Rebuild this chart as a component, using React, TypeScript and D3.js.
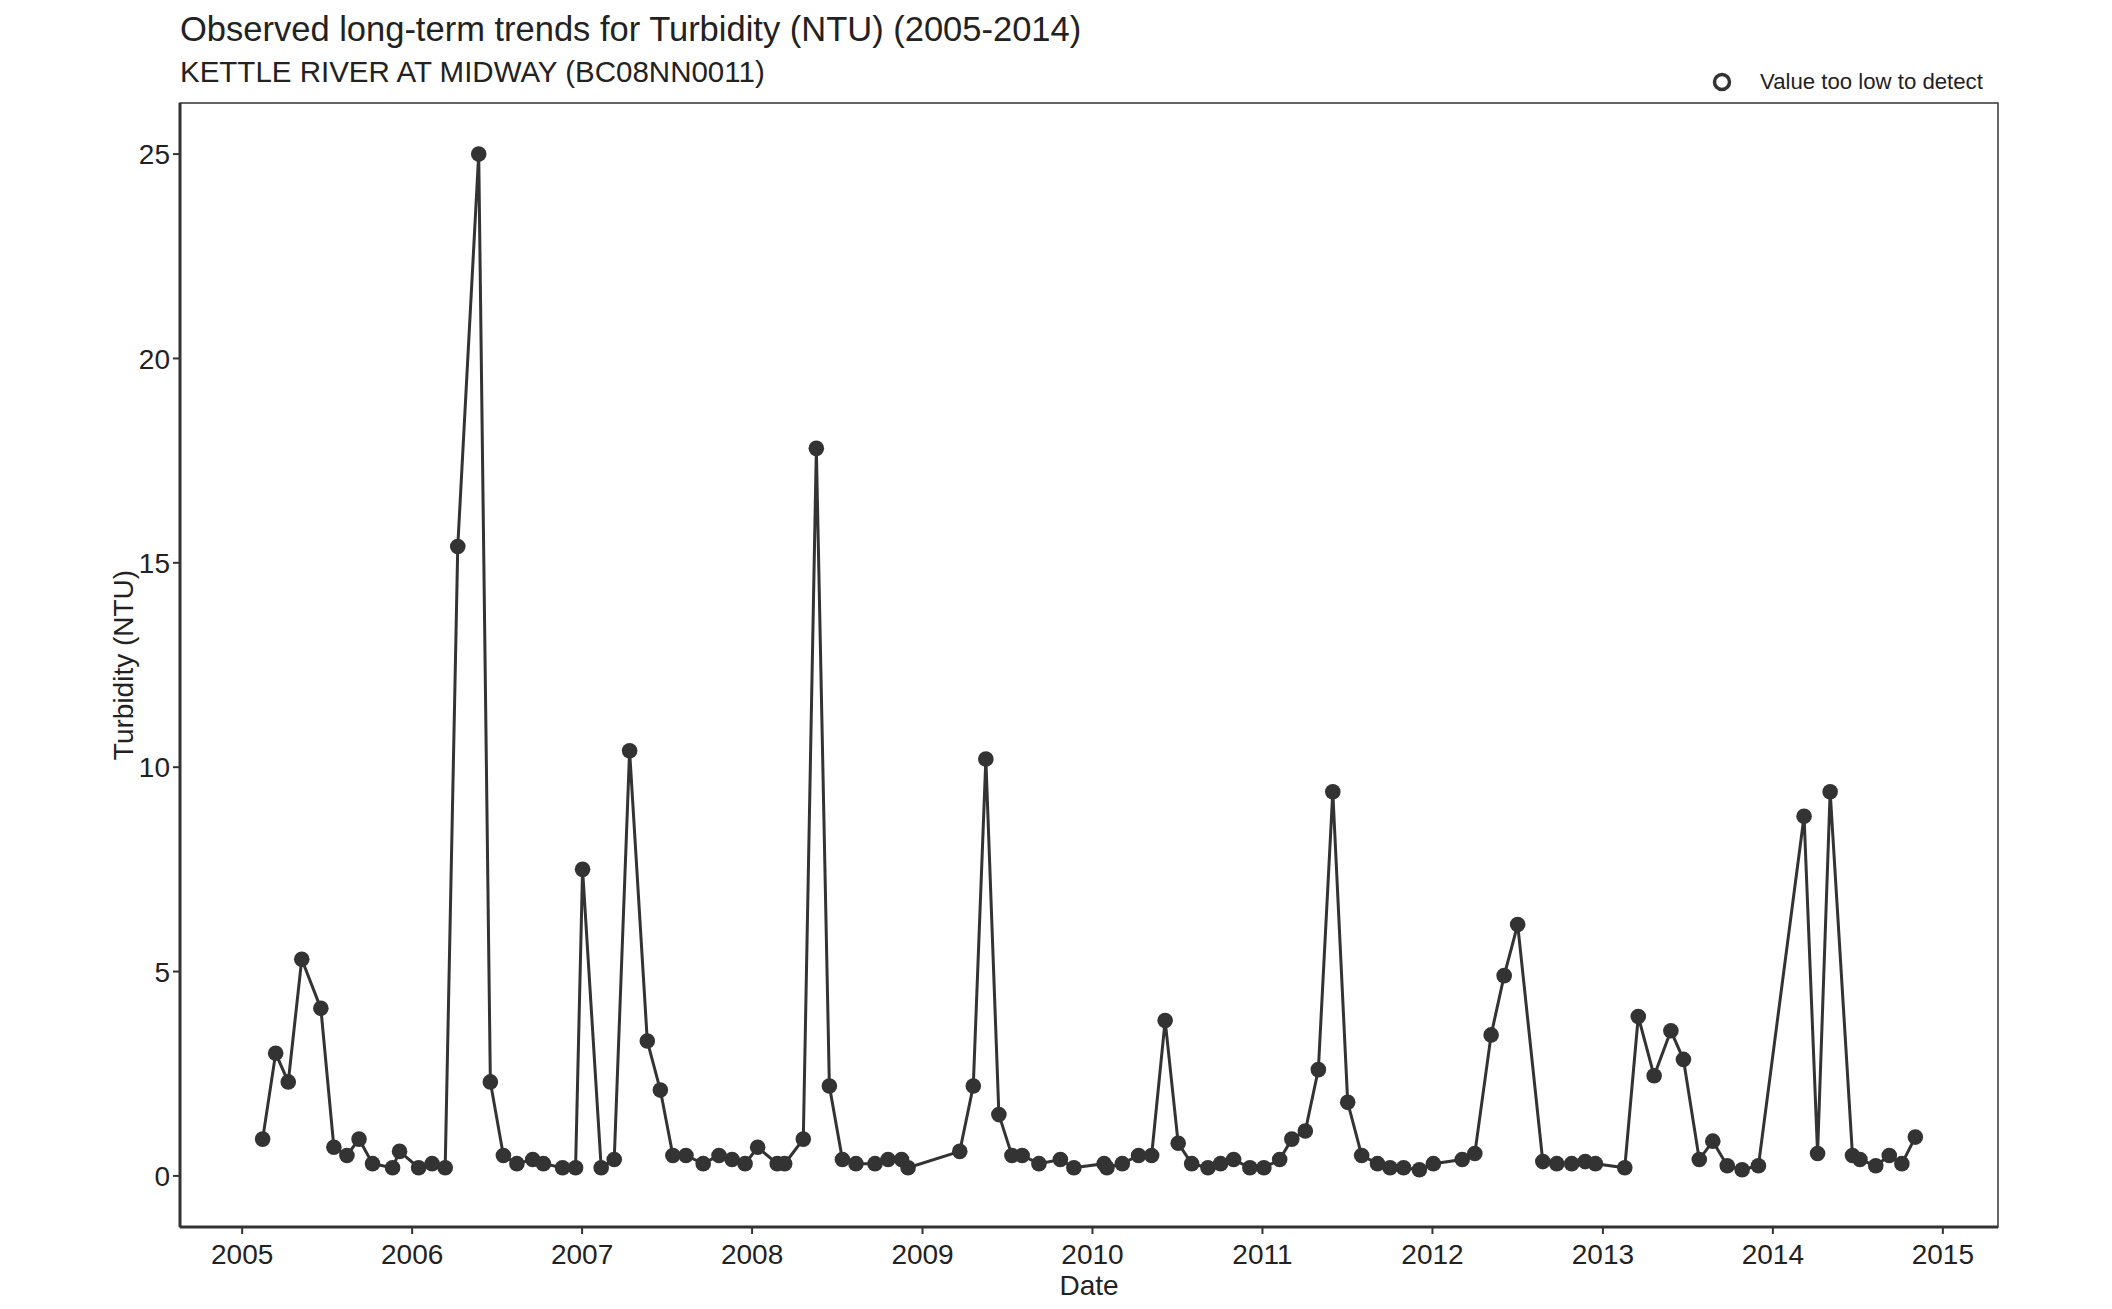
import * as d3 from "d3";

const sampleDates = [
  "2005-02-14", "2005-03-14", "2005-04-10", "2005-05-09", "2005-06-19",
  "2005-07-17", "2005-08-14", "2005-09-09", "2005-10-08", "2005-11-20",
  "2005-12-05", "2006-01-15", "2006-02-13", "2006-03-13", "2006-04-09",
  "2006-05-24", "2006-06-18", "2006-07-16", "2006-08-14", "2006-09-17",
  "2006-10-10", "2006-11-20", "2006-12-18", "2007-01-02", "2007-02-11",
  "2007-03-11", "2007-04-13", "2007-05-21", "2007-06-18", "2007-07-15",
  "2007-08-12", "2007-09-18", "2007-10-22", "2007-11-19", "2007-12-17",
  "2008-01-13", "2008-02-24", "2008-03-11", "2008-04-20", "2008-05-18",
  "2008-06-15", "2008-07-13", "2008-08-11", "2008-09-21", "2008-10-19",
  "2008-11-17", "2008-12-01", "2009-03-22", "2009-04-20", "2009-05-17",
  "2009-06-14", "2009-07-12", "2009-08-03", "2009-09-08", "2009-10-24",
  "2009-11-22", "2010-01-26", "2010-02-01", "2010-03-06", "2010-04-10",
  "2010-05-08", "2010-06-06", "2010-07-04", "2010-08-02", "2010-09-06",
  "2010-10-03", "2010-10-31", "2010-12-05", "2011-01-04", "2011-02-07",
  "2011-03-05", "2011-04-03", "2011-05-01", "2011-06-01", "2011-07-03",
  "2011-08-02", "2011-09-05", "2011-10-02", "2011-10-31", "2011-12-04",
  "2012-01-03", "2012-03-05", "2012-04-01", "2012-05-06", "2012-06-03",
  "2012-07-02", "2012-08-25", "2012-09-24", "2012-10-26", "2012-11-24",
  "2012-12-16", "2013-02-17", "2013-03-18", "2013-04-21", "2013-05-27",
  "2013-06-23", "2013-07-27", "2013-08-25", "2013-09-25", "2013-10-27",
  "2013-12-01", "2014-03-09", "2014-04-07", "2014-05-04", "2014-06-21",
  "2014-07-07", "2014-08-10", "2014-09-08", "2014-10-05", "2014-11-03",
];

const turbidity = [
  0.9, 3.0, 2.3, 5.3, 4.1,
  0.7, 0.5, 0.9, 0.3, 0.2,
  0.6, 0.2, 0.3, 0.2, 15.4,
  25.0, 2.3, 0.5, 0.3, 0.4,
  0.3, 0.2, 0.2, 7.5, 0.2,
  0.4, 10.4, 3.3, 2.1, 0.5,
  0.5, 0.3, 0.5, 0.4, 0.3,
  0.7, 0.3, 0.3, 0.9, 17.8,
  2.2, 0.4, 0.3, 0.3, 0.4,
  0.4, 0.2, 0.6, 2.2, 10.2,
  1.5, 0.5, 0.5, 0.3, 0.4,
  0.2, 0.3, 0.2, 0.3, 0.5,
  0.5, 3.8, 0.8, 0.3, 0.2,
  0.3, 0.4, 0.2, 0.2, 0.4,
  0.9, 1.1, 2.6, 9.4, 1.8,
  0.5, 0.3, 0.2, 0.2, 0.15,
  0.3, 0.4, 0.55, 3.45, 4.9,
  6.15, 0.35, 0.3, 0.3, 0.35,
  0.3, 0.2, 3.9, 2.45, 3.55,
  2.85, 0.4, 0.85, 0.25, 0.15,
  0.25, 8.8, 0.55, 9.4, 0.5,
  0.4, 0.25, 0.5, 0.3, 0.95,
];

const yTicks = [0, 5, 10, 15, 20, 25];
const xTickYears = [2005, 2006, 2007, 2008, 2009, 2010, 2011, 2012, 2013, 2014, 2015];

const title = "Observed long-term trends for Turbidity (NTU) (2005-2014)";
const subtitle = "KETTLE RIVER AT MIDWAY (BC08NN0011)";
const legendLabel = "Value too low to detect";
const xLabel = "Date";
const yLabel = "Turbidity (NTU)";

const width = 2112;
const height = 1309;
const margin = { top: 103, right: 114, bottom: 82, left: 180 };
const font = "'Liberation Sans', Arial, sans-serif";
const ink = "#333333";

export default function App() {
  const parse = d3.timeParse("%Y-%m-%d");
  const points = sampleDates.map((d, i) => ({ date: parse(d) as Date, value: turbidity[i] }));

  const plotW = width - margin.left - margin.right;
  const plotH = height - margin.top - margin.bottom;

  // ggplot-style 5% expansion on the date extent
  const [d0, d1] = d3.extent(points, (p) => p.date) as [Date, Date];
  const span = +d1 - +d0;
  const xScale = d3
    .scaleTime()
    .domain([new Date(+d0 - span * 0.05), new Date(+d1 + span * 0.05)])
    .range([0, plotW]);
  const yScale = d3.scaleLinear().domain([-1.25, 26.25]).range([plotH, 0]);

  const line = d3
    .line<{ date: Date; value: number }>()
    .x((p) => xScale(p.date))
    .y((p) => yScale(p.value));

  return (
    <svg
      width={width}
      height={height}
      style={{ position: "absolute", left: 0, top: 0, background: "#fff" }}
      fontFamily={font}
    >
      <text x={180} y={41} fontSize={34.5} fill="#222">{title}</text>
      <text x={180} y={82} fontSize={29.5} fill="#222">{subtitle}</text>

      {/* legend */}
      <circle cx={1722} cy={82} r={7.5} fill="none" stroke={ink} strokeWidth={3.5} />
      <text x={1760} y={89} fontSize={22.2} fill="#222">{legendLabel}</text>

      <g transform={`translate(${margin.left},${margin.top})`}>
        <rect x={0} y={0} width={plotW} height={plotH} fill="none" stroke={ink} strokeWidth={1.5} />
        <line x1={0} x2={0} y1={0} y2={plotH} stroke={ink} strokeWidth={3} />
        <line x1={0} x2={plotW} y1={plotH} y2={plotH} stroke={ink} strokeWidth={3} />

        {yTicks.map((t) => (
          <g key={t} transform={`translate(0,${yScale(t)})`}>
            <line x1={-7} x2={0} stroke={ink} strokeWidth={2} />
            <text x={-10} dy="0.36em" textAnchor="end" fontSize={28} fill="#222">{t}</text>
          </g>
        ))}

        {xTickYears.map((yr) => {
          const x = xScale(new Date(yr, 0, 1));
          return (
            <g key={yr} transform={`translate(${x},${plotH})`}>
              <line y1={0} y2={7} stroke={ink} strokeWidth={2} />
              <text y={37} textAnchor="middle" fontSize={28} fill="#222">{yr}</text>
            </g>
          );
        })}

        <path d={line(points) ?? ""} fill="none" stroke={ink} strokeWidth={3} />
        {points.map((p, i) => (
          <circle key={i} cx={xScale(p.date)} cy={yScale(p.value)} r={7.8} fill={ink} />
        ))}
      </g>

      <text x={margin.left + plotW / 2} y={1295} textAnchor="middle" fontSize={28} fill="#222">{xLabel}</text>
      <text
        transform={`translate(133,${margin.top + plotH / 2}) rotate(-90)`}
        textAnchor="middle"
        fontSize={28}
        fill="#222"
      >
        {yLabel}
      </text>
    </svg>
  );
}
